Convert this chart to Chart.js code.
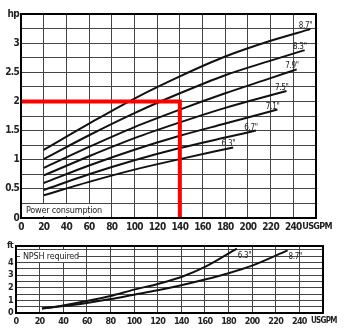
<!DOCTYPE html>
<html>
<head>
<meta charset="utf-8">
<script src="https://cdn.jsdelivr.net/npm/chart.js@4.4.1/dist/chart.umd.min.js"></script>
<style>
html, body { margin: 0; padding: 0; background: #fff; }
#wrap { position: relative; width: 352px; height: 335px; overflow: hidden; background: #fff; }
#power { position: absolute; left: 0; top: 0; }
#npsh { position: absolute; left: 0; top: 232px; }
</style>
</head>
<body>
<div id="wrap">
	<canvas id="power" width="352" height="232"></canvas>
	<canvas id="npsh" width="352" height="103"></canvas>
</div>
<script>
'use strict';

// impeller diameters, largest first
var powerSizes = ['8.7"', '8.3"', '7.9"', '7.5"', '7.1"', '6.7"', '6.3"'];
// flow (USGPM) and power (hp) along each impeller curve
var powerFlow = [
	[20, 60, 100, 140, 180, 220, 255],
	[20, 60, 100, 140, 180, 220, 250],
	[20, 60, 100, 140, 180, 220, 243],
	[20, 60, 100, 140, 180, 234],
	[20, 60, 100, 140, 180, 226],
	[20, 60, 100, 140, 180, 207],
	[20, 60, 100, 140, 187]
];
var powerHp = [
	[1.17, 1.62, 2.05, 2.43, 2.77, 3.04, 3.24],
	[1.01, 1.42, 1.80, 2.14, 2.45, 2.70, 2.88],
	[0.86, 1.22, 1.56, 1.86, 2.14, 2.40, 2.55],
	[0.73, 1.06, 1.37, 1.64, 1.89, 2.18],
	[0.60, 0.90, 1.17, 1.41, 1.62, 1.86],
	[0.48, 0.75, 0.99, 1.20, 1.38, 1.50],
	[0.39, 0.62, 0.83, 1.01, 1.21]
];

// duty point marked in red
var dutyFlow = 140;
var dutyHp = 2;

var npshSizes = ['6.3"', '8.7"'];
var npshFlow = [
	[22, 40, 60, 80, 100, 120, 140, 160, 187],
	[22, 40, 60, 80, 100, 120, 140, 160, 180, 200, 230]
];
var npshFt = [
	[0.35, 0.6, 0.95, 1.35, 1.85, 2.3, 2.85, 3.65, 5.1],
	[0.35, 0.55, 0.8, 1.1, 1.45, 1.8, 2.2, 2.65, 3.15, 3.75, 4.95]
];

var tickFont = "'DejaVu Sans Condensed', 'Liberation Sans', sans-serif";

function toPoints(xs, ys) {
	var pts = [];
	for (var i = 0; i < xs.length; i++) {
		pts.push({ x: xs[i], y: ys[i] });
	}
	return pts;
}

function curveSets(sizes, xs, ys) {
	var sets = [];
	for (var i = 0; i < sizes.length; i++) {
		sets.push({
			label: sizes[i],
			data: toPoints(xs[i], ys[i]),
			borderColor: '#111',
			borderWidth: 2,
			pointRadius: 0,
			cubicInterpolationMode: 'monotone',
			endLabel: true,
			order: 1
		});
	}
	return sets;
}

// unit name sits where the 260 tick would be, a bit smaller
function flowTickFont(size) {
	return function(c) {
		if (c.tick && c.tick.value === 260) {
			return { family: tickFont, size: size - 1, weight: 'bold' };
		}
		return { family: tickFont, size: size, weight: 'bold' };
	};
}

// tighter lettering for the narrow axis text
var tightTextPlugin = {
	id: 'tightText',
	beforeDraw: function(chart) {
		chart.ctx.letterSpacing = '-0.7px';
	}
};

// heavy frame round the plot area
var framePlugin = {
	id: 'frame',
	afterDatasetsDraw: function(chart) {
		var a = chart.chartArea;
		var ctx = chart.ctx;
		ctx.save();
		ctx.strokeStyle = '#000';
		ctx.lineWidth = 2;
		ctx.strokeRect(a.left, a.top, a.right - a.left, a.bottom - a.top);
		ctx.restore();
	}
};

// white caption box over the grid
function captionPlugin(text, x, y, w, h) {
	return {
		id: 'caption',
		beforeDatasetsDraw: function(chart) {
			var ctx = chart.ctx;
			ctx.save();
			ctx.fillStyle = '#fff';
			ctx.fillRect(x, y, w, h);
			ctx.fillStyle = '#222';
			ctx.letterSpacing = '-0.2px';
			ctx.font = '9px ' + tickFont;
			ctx.textBaseline = 'middle';
			ctx.fillText(text, x + 3, y + h / 2 + 0.5);
			ctx.restore();
		}
	};
}

// size label at the end of each curve
function endLabelPlugin(align, dx, dy) {
	return {
		id: 'endLabels',
		afterDatasetsDraw: function(chart) {
			var ctx = chart.ctx;
			ctx.save();
			ctx.letterSpacing = '-0.3px';
			ctx.font = '8px ' + tickFont;
			ctx.fillStyle = '#222';
			ctx.textAlign = align;
			ctx.textBaseline = 'alphabetic';
			chart.data.datasets.forEach(function(ds, i) {
				if (!ds.endLabel) return;
				var pts = chart.getDatasetMeta(i).data;
				var p = pts[pts.length - 1];
				ctx.fillText(ds.label, p.x + dx, p.y + dy);
			});
			ctx.restore();
		}
	};
}

function drawPower() {
	var sets = curveSets(powerSizes, powerFlow, powerHp);
	sets.push({
		label: 'duty',
		data: [{ x: 0, y: dutyHp }, { x: dutyFlow, y: dutyHp }, { x: dutyFlow, y: 0 }],
		borderColor: '#ff0000',
		borderWidth: 4,
		pointRadius: 0,
		tension: 0,
		order: 0
	});

	var config = {
		type: 'line',
		data: { datasets: sets },
		options: {
			responsive: false,
			animation: false,
			layout: { padding: { left: 0, right: 36, top: 14, bottom: 0 } },
			plugins: { legend: { display: false }, tooltip: { enabled: false } },
			scales: {
				x: {
					type: 'linear',
					min: 0,
					max: 260,
					afterFit: function(s) { s.height = 14; },
					grid: { color: '#444', lineWidth: 1, drawTicks: false },
					border: { display: false },
					ticks: {
						stepSize: 20,
						autoSkip: false,
						maxRotation: 0,
						padding: 3,
						color: '#222',
						font: flowTickFont(10),
						callback: function(v) { return v === 260 ? ' USGPM' : String(v); }
					}
				},
				y: {
					min: 0,
					max: 3.5,
					afterFit: function(s) { s.width = 21; },
					grid: { color: '#444', lineWidth: 1, drawTicks: false },
					border: { display: false },
					ticks: {
						stepSize: 0.25,
						autoSkip: false,
						padding: 2,
						color: '#222',
						font: { family: tickFont, size: 10, weight: 'bold' },
						callback: function(v) {
							if (v === 3.5) return 'hp';
							return (v * 2) % 1 === 0 ? String(v) : '';
						}
					}
				}
			}
		},
		plugins: [tightTextPlugin, framePlugin, captionPlugin('Power consumption', 23, 204, 77, 12), endLabelPlugin('right', 2, -1)]
	};

	new Chart(document.getElementById('power').getContext('2d'), config);
}

function drawNpsh() {
	var sets = curveSets(npshSizes, npshFlow, npshFt);

	var config = {
		type: 'line',
		data: { datasets: sets },
		options: {
			responsive: false,
			animation: false,
			layout: { padding: { left: 0, right: 29, top: 14, bottom: 0 } },
			plugins: { legend: { display: false }, tooltip: { enabled: false } },
			scales: {
				x: {
					type: 'linear',
					min: 0,
					max: 260,
					afterFit: function(s) { s.height = 22; },
					grid: { color: '#444', lineWidth: 1, drawTicks: false },
					border: { display: false },
					ticks: {
						stepSize: 20,
						autoSkip: false,
						maxRotation: 0,
						padding: 3,
						color: '#222',
						font: flowTickFont(9),
						callback: function(v) { return v === 260 ? ' USGPM' : String(v); }
					}
				},
				y: {
					min: 0,
					max: 5.3,
					afterFit: function(s) { s.width = 16; },
					afterBuildTicks: function(s) {
						var t = [];
						for (var v = 0; v <= 5; v += 0.5) t.push({ value: v });
						t.push({ value: 5.3 });
						s.ticks = t;
					},
					grid: { color: '#444', lineWidth: 1, drawTicks: false },
					border: { display: false },
					ticks: {
						autoSkip: false,
						padding: 3,
						color: '#222',
						font: { family: tickFont, size: 9, weight: 'bold' },
						callback: function(v) {
							if (v === 5.3) return 'ft';
							return v % 1 === 0 && v < 5 ? String(v) : '';
						}
					}
				}
			}
		},
		plugins: [tightTextPlugin, framePlugin, captionPlugin('NPSH required', 20, 18, 58, 12), endLabelPlugin('left', 1, 9)]
	};

	new Chart(document.getElementById('npsh').getContext('2d'), config);
}

drawPower();
drawNpsh();
</script>
</body>
</html>
